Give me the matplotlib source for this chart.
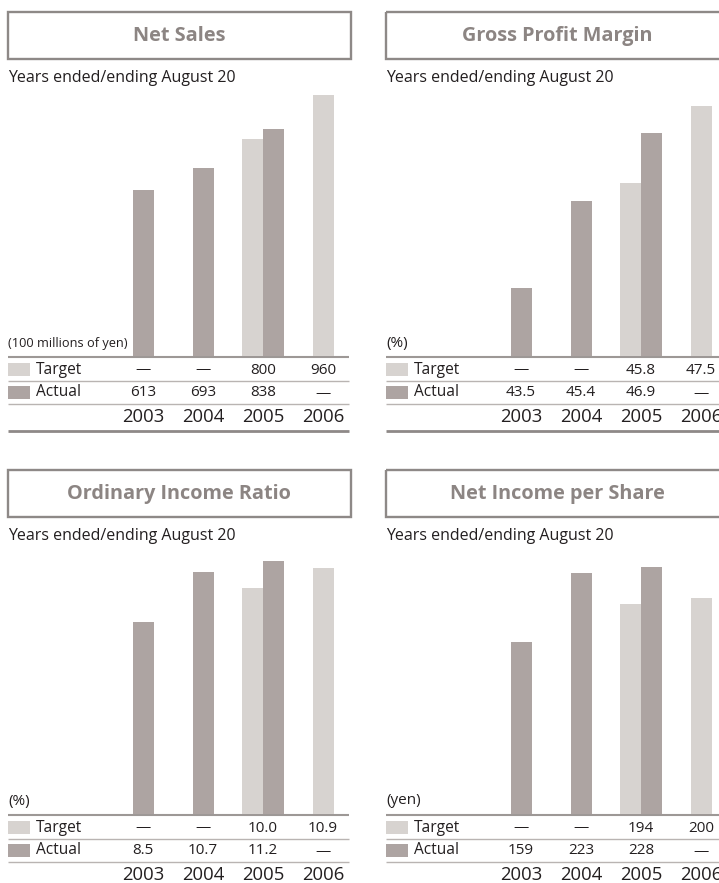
import matplotlib
matplotlib.use("Agg")
import matplotlib.pyplot as plt
from matplotlib.patches import Rectangle
from matplotlib.transforms import blended_transform_factory

# ---------------------------------------------------------------- data
YEARS = ['2003', '2004', '2005', '2006']

net_sales_target = [None, None, 800, 960]
net_sales_actual = [613, 693, 838, None]

gross_margin_target = [None, None, 45.8, 47.5]
gross_margin_actual = [43.5, 45.4, 46.9, None]

ordinary_ratio_target = [None, None, 10.0, 10.9]
ordinary_ratio_actual = [8.5, 10.7, 11.2, None]

eps_target = [None, None, 194, 200]
eps_actual = [159, 223, 228, None]

# ---------------------------------------------------------------- style
W, H = 719, 883
FONT = ['Open Sans', 'DejaVu Sans']
C_TARGET = '#d7d3d0'
C_ACTUAL = '#ada4a2'
C_TITLE = '#8c8583'
C_BOX = '#8e8987'
C_TEXT = '#231f20'
C_RULE = '#9d9896'
C_SEP = '#b9b4b2'

plt.rcParams['font.family'] = FONT

fig = plt.figure(figsize=(W / 100, H / 100), dpi=100)
bg = fig.add_axes([0, 0, 1, 1])
bg.set_xlim(0, W)
bg.set_ylim(H, 0)
bg.axis('off')


def fmt_val(v, nd):
    if v is None:
        return '\u2014'
    return f"{v:.{nd}f}"


def panel(x0, y0, title, unit, target, actual, ylim, nd, unit_size=11):
    # title box
    bg.add_patch(Rectangle((x0 + 7.5, y0 + 12), 343, 47, fill=False,
                           ec=C_BOX, lw=1.7))
    bg.text(x0 + 179, y0 + 36, title, ha='center', va='center',
            fontsize=14.3, fontweight='bold', color=C_TITLE)
    bg.text(x0 + 8, y0 + 78, 'Years ended/ending August 20', ha='left',
            va='center', fontsize=11.5, color=C_TEXT)

    # bars
    ax = fig.add_axes([(x0 + 113) / W, (H - (y0 + 356)) / H, 240 / W, 266 / H])
    ax.set_xlim(-0.5, 3.5)
    ax.set_ylim(*ylim)
    ax.axis('off')
    bw = 0.35
    for i, (t, a) in enumerate(zip(target, actual)):
        off = bw / 2 if (t is not None and a is not None) else 0
        if t is not None:
            ax.bar(i - off, t, width=bw, color=C_TARGET, linewidth=0)
        if a is not None:
            ax.bar(i + off, a, width=bw, color=C_ACTUAL, linewidth=0)

    # table under the bars
    bg.text(x0 + 8, y0 + 343, unit, ha='left', va='center',
            fontsize=unit_size, color=C_TEXT)
    bg.plot([x0 + 8, x0 + 349], [y0 + 356.5] * 2, color=C_RULE, lw=1.5,
            solid_capstyle='butt')
    bg.plot([x0 + 8, x0 + 349], [y0 + 381] * 2, color=C_SEP, lw=1.0,
            solid_capstyle='butt')
    bg.plot([x0 + 8, x0 + 349], [y0 + 403.5] * 2, color=C_SEP, lw=1.0,
            solid_capstyle='butt')
    bg.plot([x0 + 8, x0 + 349], [y0 + 430.5] * 2, color=C_BOX, lw=2.0,
            solid_capstyle='butt')

    bg.add_patch(Rectangle((x0 + 8, y0 + 363), 22, 13, color=C_TARGET, lw=0))
    bg.add_patch(Rectangle((x0 + 8, y0 + 386), 22, 13, color=C_ACTUAL, lw=0))
    bg.text(x0 + 36, y0 + 369.5, 'Target', ha='left', va='center',
            fontsize=11.2, color=C_TEXT)
    bg.text(x0 + 36, y0 + 392.5, 'Actual', ha='left', va='center',
            fontsize=11.2, color=C_TEXT)

    tr = blended_transform_factory(ax.transData, bg.transData)
    for i, yr in enumerate(YEARS):
        bg.text(i, y0 + 370, fmt_val(target[i], nd), transform=tr,
                ha='center', va='center', fontsize=11, color=C_TEXT)
        bg.text(i, y0 + 393, fmt_val(actual[i], nd), transform=tr,
                ha='center', va='center', fontsize=11, color=C_TEXT)
        bg.text(i, y0 + 417, yr, transform=tr, ha='center', va='center',
                fontsize=13.3, color=C_TEXT)


panel(0, 0, 'Net Sales', '(100 millions of yen)',
      net_sales_target, net_sales_actual, (0, 980), 0, unit_size=9.2)
panel(378, 0, 'Gross Profit Margin', '(%)',
      gross_margin_target, gross_margin_actual, (42, 47.85), 1)
panel(0, 458, 'Ordinary Income Ratio', '(%)',
      ordinary_ratio_target, ordinary_ratio_actual, (0, 11.77), 1)
panel(378, 458, 'Net Income per Share', '(yen)',
      eps_target, eps_actual, (0, 245.8), 0)

fig.savefig('out.png', dpi=100)
